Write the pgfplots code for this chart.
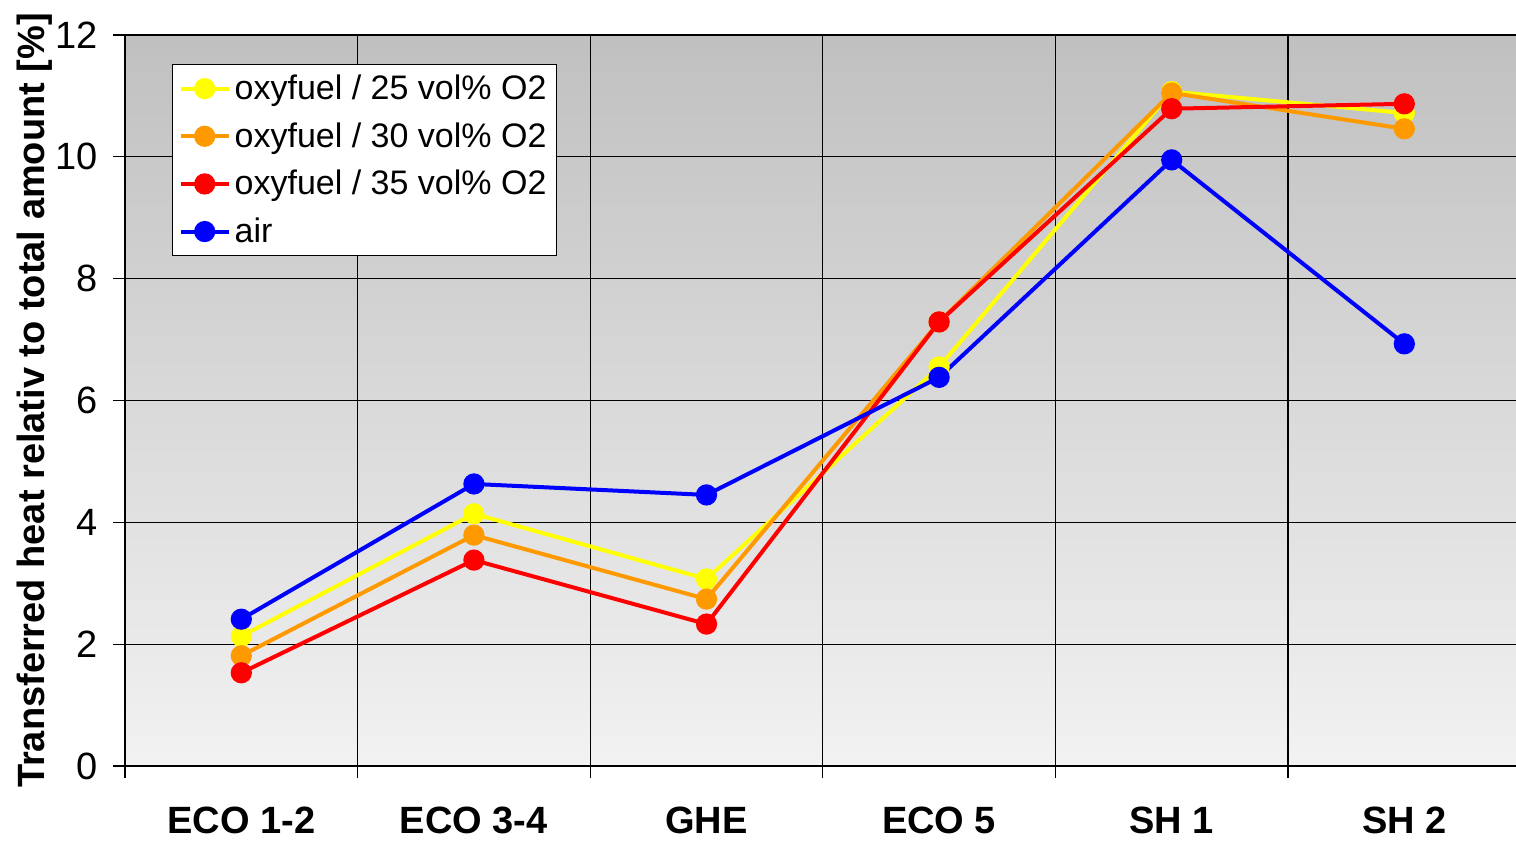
\documentclass[border=0pt]{standalone}
\usepackage{fontspec}
\setmainfont{Liberation Sans}
\usepackage{pgfplots}
\pgfplotsset{compat=1.18}
\definecolor{bgtop}{RGB}{192,192,192}
\definecolor{bgbot}{RGB}{242,242,242}
\definecolor{cyel}{RGB}{255,255,0}
\definecolor{corg}{RGB}{255,153,0}
\definecolor{cred}{RGB}{255,0,0}
\definecolor{cblu}{RGB}{0,0,255}
\begin{document}
\begin{tikzpicture}
\begin{axis}[
  scale only axis, width=697.8pt, height=365.5pt,
  xmin=-0.5, xmax=5.5, ymin=0, ymax=12,
  axis x line*=bottom, axis y line*=left,
  axis line style={line width=0.8pt, -},
  axis background/.style={shade, top color=bgtop, bottom color=bgbot},
  /pgf/number format/assume math mode=true,
  tick align=outside,
  major tick length=6pt,
  tick style={black, line width=0.6pt},
  xtick={-0.5,0.5,1.5,2.5,3.5,4.5},
  xticklabels={},
  xmajorgrids,
  extra x ticks={0,1,2,3,4,5},
  extra x tick labels={ECO 1-2, ECO 3-4, GHE, ECO 5, SH 1, SH 2},
  extra x tick style={xmajorgrids=false, major tick length=0pt,
     xticklabel style={font=\fontsize{19}{22}\selectfont\bfseries, yshift=-17pt}},
  ytick={0,2,4,6,8,10,12},
  ymajorgrids,
  yticklabel style={font=\fontsize{19}{22}\selectfont, xshift=-4pt},
  grid style={black, line width=0.6pt},
  ylabel={Transferred heat relativ to total amount [\%]},
  every axis y label/.style={at={([xshift=-45pt]axis description cs:0,0.5)}, rotate=90, anchor=center, font=\fontsize{19}{22}\selectfont\bfseries},
  legend style={at={(axis cs:-0.2975,11.52)}, anchor=north west, draw=black, fill=white,
     font=\fontsize{17}{20}\selectfont, line width=0.6pt, row sep=6pt, inner sep=3pt},
  legend cell align=left,
  legend image code/.code={\draw[mark repeat=2,mark phase=2,#1] plot coordinates {(0pt,0pt) (12pt,0pt) (24pt,0pt)};},
  every axis plot/.append style={line width=2pt, mark=*, mark size=4.3pt},
]
\coordinate (bl) at (rel axis cs:0,0);
\coordinate (tr) at (rel axis cs:1,1);
\addplot[color=cyel, mark options={fill=cyel, draw=cyel}] coordinates {(0,2.13) (1,4.14) (2,3.07) (3,6.55) (4,11.07) (5,10.72)};
\addlegendentry{oxyfuel / 25 vol\% O2}
\addplot[color=corg, mark options={fill=corg, draw=corg}] coordinates {(0,1.81) (1,3.79) (2,2.74) (3,7.29) (4,11.05) (5,10.46)};
\addlegendentry{oxyfuel / 30 vol\% O2}
\addplot[color=cred, mark options={fill=cred, draw=cred}] coordinates {(0,1.53) (1,3.38) (2,2.33) (3,7.29) (4,10.79) (5,10.87)};
\addlegendentry{oxyfuel / 35 vol\% O2}
\addplot[color=cblu, mark options={fill=cblu, draw=cblu}] coordinates {(0,2.41) (1,4.63) (2,4.45) (3,6.38) (4,9.95) (5,6.93)};
\addlegendentry{air}
\end{axis}
\pgfresetboundingbox
\path ([shift={(-62.5pt,-37pt)}]bl) rectangle ([shift={(-2.3pt,17.5pt)}]tr);
\end{tikzpicture}
\end{document}
